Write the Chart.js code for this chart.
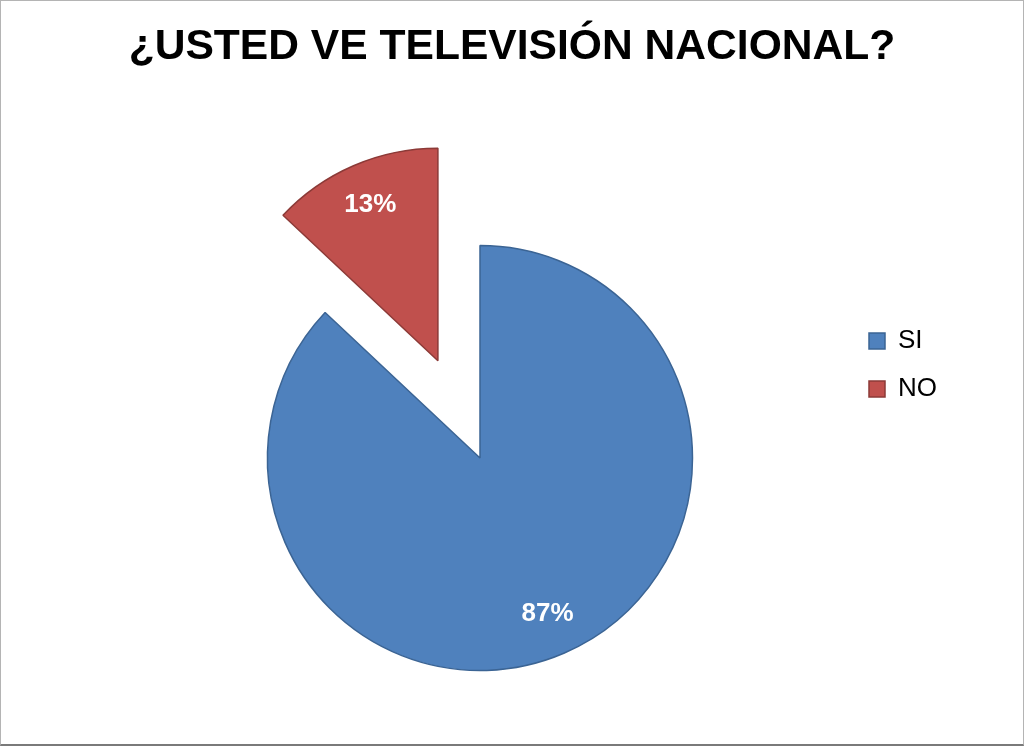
<!DOCTYPE html>
<html lang="es">
<head>
<meta charset="utf-8">
<title>¿Usted ve televisión nacional?</title>
<script src="https://cdn.jsdelivr.net/npm/chart.js@4"></script>
<style>
  html,body{margin:0;padding:0;background:#fff;}
  .wrap{position:relative;width:1024px;height:746px;}
  .wrap canvas{position:absolute;left:0;top:0;}
  .frame{position:absolute;left:0;top:0;width:1024px;height:746px;box-sizing:border-box;
    border:1px solid #b4b4b4;border-bottom:2px solid #7a7a7a;pointer-events:none;}
</style>
</head>
<body>
<div class="wrap">
  <canvas id="tvChart" width="1024" height="746"></canvas>
  <div class="frame"></div>
</div>
<script>
/* Encuesta: televisión nacional */
const titleText='¿USTED VE TELEVISIÓN NACIONAL?';
const answers=['SI','NO'];
const percents=[87,13];
const fills=['#4f81bd','#c0504d'];
const edges=['#3b6494','#8c3a37'];
const pullOut=[0,106];   // px each slice is moved away from the centre

const FONT='"Liberation Sans", Arial, sans-serif';

// draw the arcs ourselves so a pulled slice keeps its radius
const explodedSlices={
  id:'explodedSlices',
  beforeDatasetDraw(chart,args){
    const {ctx}=chart;
    args.meta.data.forEach((arc,i)=>{
      const mid=(arc.startAngle+arc.endAngle)/2;
      ctx.save();
      ctx.translate(Math.cos(mid)*pullOut[i],Math.sin(mid)*pullOut[i]);
      arc.draw(ctx,chart.chartArea);
      ctx.restore();
    });
    return false;
  }
};

// white percent text inside each slice
const sliceLabels={
  id:'sliceLabels',
  afterDatasetsDraw(chart){
    const {ctx}=chart;
    const meta=chart.getDatasetMeta(0);
    ctx.save();
    ctx.fillStyle='#ffffff';
    ctx.font='bold 26px '+FONT;
    ctx.textAlign='center';
    ctx.textBaseline='middle';
    meta.data.forEach((arc,i)=>{
      const mid=(arc.startAngle+arc.endAngle)/2;
      const d=pullOut[i]+arc.outerRadius*0.8;
      ctx.fillText(percents[i]+'%',arc.x+Math.cos(mid)*d,arc.y+Math.sin(mid)*d);
    });
    ctx.restore();
  }
};

new Chart(document.getElementById('tvChart'),{
  type:'pie',
  data:{
    labels:answers,
    datasets:[{
      data:percents,
      backgroundColor:fills,
      borderColor:edges,
      borderWidth:1.5,
      hoverOffset:0
    }]
  },
  options:{
    responsive:false,
    animation:false,
    devicePixelRatio:1,
    radius:212.5,
    layout:{padding:{top:0,bottom:16,left:77,right:77}},
    plugins:{
      title:{
        display:true,
        text:titleText,
        color:'#000',
        font:{family:FONT,size:42.6,weight:'bold',lineHeight:1.2},
        padding:{top:22,bottom:112.9}
      },
      // empty left strip, keeps the pie left of the page centre
      subtitle:{
        display:true,
        position:'left',
        text:'',
        font:{size:10,lineHeight:1.2},
        padding:{top:12,bottom:12}
      },
      legend:{
        position:'right',
        maxWidth:100,
        labels:{
          boxWidth:16,
          boxHeight:16,
          padding:22,
          color:'#000',
          font:{family:FONT,size:26}
        }
      },
      tooltip:{enabled:false}
    }
  },
  plugins:[explodedSlices,sliceLabels]
});
</script>
</body>
</html>
